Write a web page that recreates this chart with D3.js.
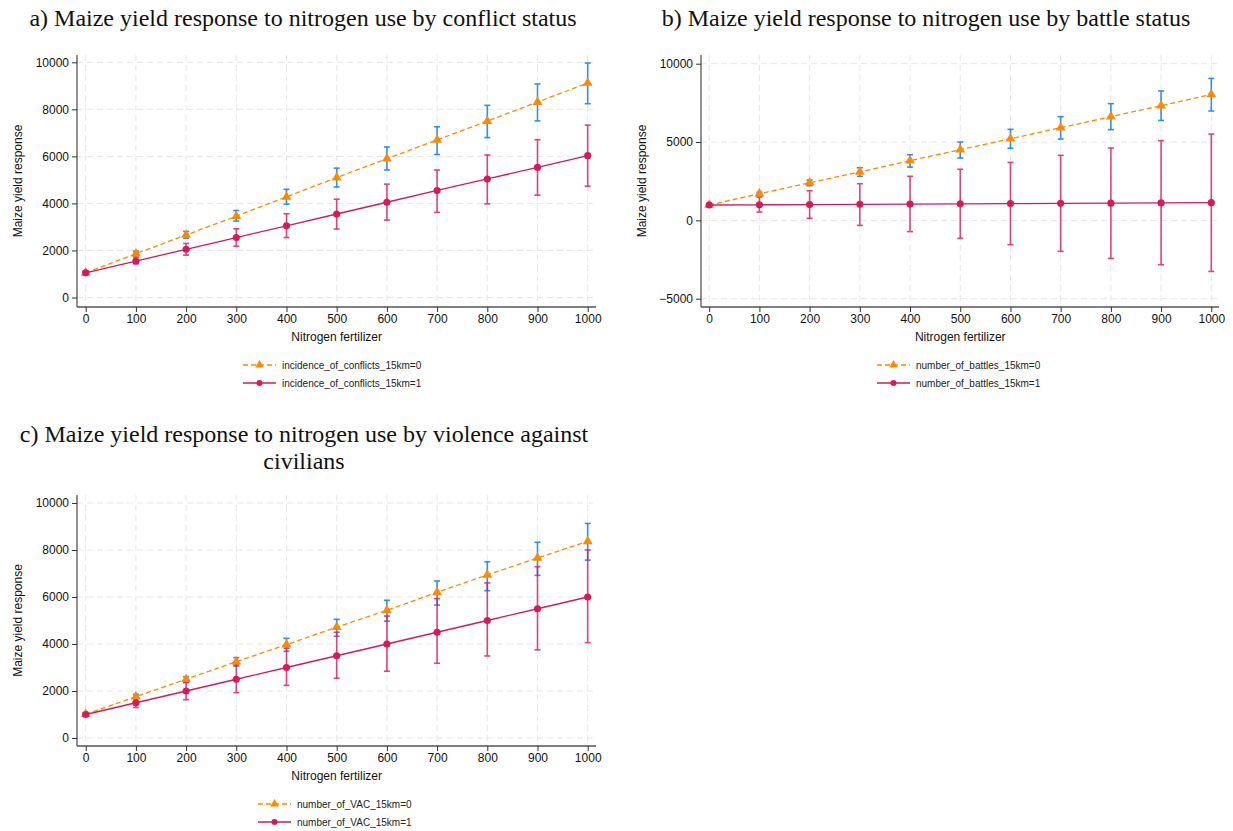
<!DOCTYPE html>
<html>
<head>
<meta charset="utf-8">
<script src="https://cdn.jsdelivr.net/npm/d3@7"></script>
<style>
  html, body { margin: 0; padding: 0; background: #fff; }
  svg { display: block; }
</style>
</head>
<body>
<svg id="chart" width="1233" height="831"></svg>
<script>
// ---------- DATA ----------
const nitrogen = [0, 100, 200, 300, 400, 500, 600, 700, 800, 900, 1000];

// Panel a: conflict status
const aTitle = ["a) Maize yield response to nitrogen use by conflict status"];
const aLegend = ["incidence_of_conflicts_15km=0", "incidence_of_conflicts_15km=1"];
const aYTicks = [0, 2000, 4000, 6000, 8000, 10000];
const a0 = [1050, 1860, 2660, 3460, 4280, 5100, 5900, 6700, 7500, 8310, 9120];
const a0Lo = [980, 1780, 2520, 3250, 3970, 4700, 5420, 6080, 6800, 7510, 8240];
const a0Hi = [1120, 1970, 2810, 3700, 4600, 5500, 6400, 7260, 8170, 9080, 9970];
const a1 = [1050, 1550, 2050, 2550, 3050, 3550, 4050, 4550, 5040, 5530, 6030];
const a1Lo = [970, 1430, 1800, 2180, 2550, 2910, 3290, 3620, 3980, 4350, 4730];
const a1Hi = [1130, 1720, 2300, 2920, 3560, 4180, 4820, 5420, 6060, 6710, 7330];

// Panel b: battle status
const bTitle = ["b) Maize yield response to nitrogen use by battle status"];
const bLegend = ["number_of_battles_15km=0", "number_of_battles_15km=1"];
const bYTicks = [-5000, 0, 5000, 10000];
const b0 = [980, 1700, 2400, 3090, 3810, 4510, 5210, 5910, 6620, 7320, 8040];
const b0Lo = [900, 1570, 2210, 2810, 3400, 3980, 4600, 5190, 5790, 6380, 6980];
const b0Hi = [1060, 1790, 2570, 3360, 4190, 5000, 5810, 6620, 7450, 8260, 9060];
const b1 = [980, 995, 1010, 1025, 1040, 1055, 1070, 1085, 1100, 1115, 1130];
const b1Lo = [900, 530, 130, -320, -720, -1150, -1550, -1980, -2430, -2830, -3260];
const b1Hi = [1060, 1490, 1890, 2340, 2810, 3260, 3700, 4150, 4620, 5090, 5510];

// Panel c: violence against civilians
const cTitle = ["c) Maize yield response to nitrogen use by violence against", "civilians"];
const cLegend = ["number_of_VAC_15km=0", "number_of_VAC_15km=1"];
const cYTicks = [0, 2000, 4000, 6000, 8000, 10000];
const c0 = [1010, 1760, 2500, 3250, 3970, 4720, 5430, 6200, 6940, 7660, 8370];
const c0Lo = [940, 1670, 2370, 3060, 3690, 4330, 4970, 5660, 6270, 6920, 7570];
const c0Hi = [1080, 1860, 2610, 3420, 4240, 5050, 5860, 6680, 7500, 8330, 9130];
const c1 = [1000, 1500, 2000, 2500, 3000, 3500, 4000, 4500, 5000, 5500, 6000];
const c1Lo = [930, 1300, 1630, 1930, 2240, 2540, 2840, 3180, 3490, 3750, 4060];
const c1Hi = [1070, 1730, 2360, 3110, 3820, 4500, 5190, 5930, 6600, 7290, 8000];

const xTicks = [0, 100, 200, 300, 400, 500, 600, 700, 800, 900, 1000];

// ---------- STYLE ----------
const ORANGE = "#ff8a00";
const BLUE = "#2f8ff0";
const RED = "#d6195c";
const SANS = "'Liberation Sans', Arial, sans-serif";
const SERIF = "'Liberation Serif', 'Times New Roman', serif";

const svg = d3.select("#chart");

function drawPanel(cfg) {
  const g = svg.append("g");
  const x = d3.scaleLinear().domain([0, 1000]).range([cfg.x0, cfg.x1]);
  const y = d3.scaleLinear().domain(cfg.yDomain).range([cfg.yB, cfg.yT]);

  // title
  cfg.title.forEach((t, i) => {
    g.append("text").attr("x", cfg.titleX).attr("y", cfg.titleY + i * 27)
      .attr("text-anchor", "middle")
      .style("font-family", SERIF).style("font-size", "24px").attr("fill", "#111")
      .text(t);
  });

  // grid
  g.append("g").selectAll("line").data(cfg.yTicks).join("line")
    .attr("x1", cfg.axisX).attr("x2", cfg.right)
    .attr("y1", d => y(d)).attr("y2", d => y(d))
    .attr("stroke", "#e6e6e6").attr("stroke-width", 1).attr("stroke-dasharray", "6,4");
  g.append("g").selectAll("line").data(xTicks).join("line")
    .attr("x1", d => x(d)).attr("x2", d => x(d))
    .attr("y1", cfg.top).attr("y2", cfg.axisY)
    .attr("stroke", "#e6e6e6").attr("stroke-width", 1).attr("stroke-dasharray", "6,4");

  // axes
  const yAxis = d3.axisLeft(y).tickValues(cfg.yTicks).tickSize(5).tickPadding(3).tickFormat(d3.format("d"));
  const ya = g.append("g").attr("transform", `translate(${cfg.axisX},0)`).call(yAxis);
  ya.select(".domain").attr("d", `M0,${cfg.top}V${cfg.axisY}`);
  const xAxis = d3.axisBottom(x).tickValues(xTicks).tickSize(5).tickPadding(2).tickFormat(d3.format("d"));
  const xa = g.append("g").attr("transform", `translate(0,${cfg.axisY})`).call(xAxis);
  xa.select(".domain").attr("d", `M${cfg.axisX},0H${cfg.right}`);
  [ya, xa].forEach(a => {
    a.selectAll(".domain").attr("stroke", "#555").attr("stroke-width", 1.3);
    a.selectAll(".tick line").attr("stroke", "#333");
    a.selectAll("text").style("font-family", SANS).style("font-size", "12px").attr("fill", "#111");
  });

  // axis titles
  g.append("text")
    .attr("transform", `translate(${cfg.axisX - 59},${(cfg.top + cfg.axisY) / 2}) rotate(-90)`)
    .attr("text-anchor", "middle").attr("dy", "0.35em")
    .style("font-family", SANS).style("font-size", "12px").attr("fill", "#111")
    .text("Maize yield response");
  g.append("text")
    .attr("x", (cfg.x0 + cfg.x1) / 2).attr("y", cfg.axisY + 34)
    .attr("text-anchor", "middle")
    .style("font-family", SANS).style("font-size", "12px").attr("fill", "#111")
    .text("Nitrogen fertilizer");

  const series = [
    { v: cfg.s0, lo: cfg.s0Lo, hi: cfg.s0Hi, col: ORANGE, ci: BLUE, dash: "5,3", sym: d3.symbolTriangle, ciOp: 1 },
    { v: cfg.s1, lo: cfg.s1Lo, hi: cfg.s1Hi, col: RED, ci: RED, dash: null, sym: d3.symbolCircle, ciOp: 0.8 }
  ];

  // CIs
  series.forEach(s => {
    const cg = g.append("g").attr("stroke", s.ci).attr("stroke-width", 1.6).attr("opacity", s.ciOp);
    nitrogen.forEach((n, i) => {
      cg.append("line").attr("x1", x(n)).attr("x2", x(n)).attr("y1", y(s.lo[i])).attr("y2", y(s.hi[i]));
      cg.append("line").attr("x1", x(n) - 3).attr("x2", x(n) + 3).attr("y1", y(s.lo[i])).attr("y2", y(s.lo[i]));
      cg.append("line").attr("x1", x(n) - 3).attr("x2", x(n) + 3).attr("y1", y(s.hi[i])).attr("y2", y(s.hi[i]));
    });
  });
  // lines + markers
  series.forEach(s => {
    const line = d3.line().x((d, i) => x(nitrogen[i])).y(d => y(d));
    g.append("path").datum(s.v).attr("d", line).attr("fill", "none")
      .attr("stroke", s.col).attr("stroke-width", 1.3).attr("stroke-dasharray", s.dash);
    g.append("g").selectAll("path").data(s.v).join("path")
      .attr("transform", (d, i) => `translate(${x(nitrogen[i])},${y(d)})`)
      .attr("d", d3.symbol().type(s.sym).size(s.sym === d3.symbolCircle ? 40 : 42))
      .attr("fill", s.col);
  });

  // legend
  const lg = g.append("g").attr("transform", `translate(${cfg.legX},${cfg.legY})`);
  series.forEach((s, i) => {
    const yy = i * 18;
    lg.append("line").attr("x1", 0).attr("x2", 33).attr("y1", yy).attr("y2", yy)
      .attr("stroke", s.col).attr("stroke-width", 1.3).attr("stroke-dasharray", s.dash);
    lg.append("path").attr("transform", `translate(16.5,${yy})`)
      .attr("d", d3.symbol().type(s.sym).size(s.sym === d3.symbolCircle ? 28 : 32)).attr("fill", s.col);
    lg.append("text").attr("x", 39).attr("y", yy).attr("dy", "0.35em")
      .style("font-family", SANS).style("font-size", "10px").attr("fill", "#222")
      .text(cfg.legend[i]);
  });
}

drawPanel({
  title: aTitle, titleX: 303, titleY: 26,
  x0: 85.7, x1: 587.7, yDomain: [0, 10000], yB: 297.5, yT: 62.3,
  axisX: 77, right: 596, top: 55, axisY: 307, yTicks: aYTicks,
  s0: a0, s0Lo: a0Lo, s0Hi: a0Hi, s1: a1, s1Lo: a1Lo, s1Hi: a1Hi,
  legend: aLegend, legX: 243, legY: 365
});
drawPanel({
  title: bTitle, titleX: 926, titleY: 26,
  x0: 709.2, x1: 1211.3, yDomain: [-5000, 10000], yB: 298.7, yT: 63.7,
  axisX: 701, right: 1219, top: 55, axisY: 307, yTicks: bYTicks,
  s0: b0, s0Lo: b0Lo, s0Hi: b0Hi, s1: b1, s1Lo: b1Lo, s1Hi: b1Hi,
  legend: bLegend, legX: 877, legY: 365
});
drawPanel({
  title: cTitle, titleX: 304, titleY: 442,
  x0: 85.7, x1: 587.7, yDomain: [0, 10000], yB: 738, yT: 503,
  axisX: 77, right: 596, top: 495, axisY: 746, yTicks: cYTicks,
  s0: c0, s0Lo: c0Lo, s0Hi: c0Hi, s1: c1, s1Lo: c1Lo, s1Hi: c1Hi,
  legend: cLegend, legX: 258, legY: 804
});
</script>
</body>
</html>
